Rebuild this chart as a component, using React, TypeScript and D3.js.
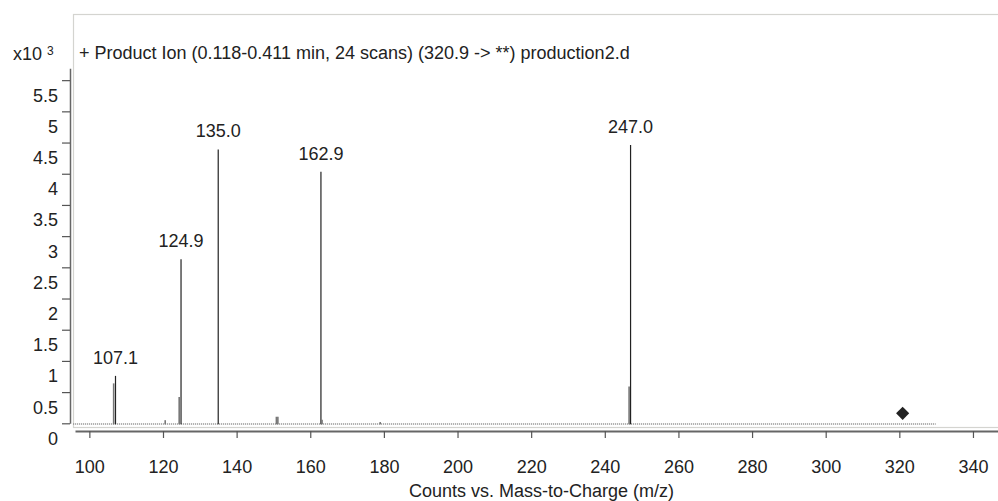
import React, { useEffect, useRef } from "react";
import * as d3 from "d3";

// centroid peaks, m/z and counts
const peakMz = [106.6, 107.1, 120.6, 124.4, 124.9, 135.0, 150.8, 151.2, 162.9, 163.2, 179.0, 246.6, 247.0];
const peakCounts = [640, 760, 50, 420, 2630, 4390, 105, 105, 4030, 55, 20, 590, 4460];
const labelMz = [107.1, 124.9, 135.0, 162.9, 247.0];
const scanRange = [95.6, 329.9];
const precursorMz = 320.9;
const precursorCounts = 160;
const xTicks = [100, 120, 140, 160, 180, 200, 220, 240, 260, 280, 300, 320, 340];
const yTicks = [0, 0.5, 1, 1.5, 2, 2.5, 3, 3.5, 4, 4.5, 5, 5.5];
const title = "+ Product Ion (0.118-0.411 min, 24 scans) (320.9 -> **) production2.d";
const xTitle = "Counts vs. Mass-to-Charge (m/z)";

const width = 998;
const height = 501;
const font = "'Liberation Sans', Arial, sans-serif";
const fs = 18;

export default function App() {
  const ref = useRef<SVGSVGElement>(null);

  useEffect(() => {
    const svg = d3.select(ref.current);
    svg.selectAll("*").remove();

    const x = d3.scaleLinear().domain([96.1, 346.8]).range([75, 998]);
    const y = d3.scaleLinear().domain([0, 5.69]).range([423.3, 68.3]);

    // plot frame
    svg.append("rect")
      .attr("x", 73.5).attr("y", 14.5)
      .attr("width", 940).attr("height", 413)
      .attr("fill", "none")
      .attr("stroke", "#d4d4d0")
      .attr("stroke-width", 1.2);

    // x axis
    const xAxis = svg.append("g")
      .attr("transform", "translate(0,431)")
      .call(d3.axisBottom(x).tickValues(xTicks).tickSize(7).tickSizeOuter(0).tickFormat(d3.format("d")));
    xAxis.select(".domain").attr("stroke", "#666").attr("stroke-width", 2);
    xAxis.selectAll(".tick line").attr("stroke", "#555").attr("stroke-width", 1.2);
    xAxis.selectAll(".tick text")
      .attr("y", 42).attr("dy", 0)
      .attr("font-family", font).attr("font-size", fs).attr("fill", "#222");

    // y axis
    const yAxis = svg.append("g")
      .attr("transform", "translate(70,0)")
      .call(d3.axisLeft(y).tickValues(yTicks).tickSize(8).tickSizeOuter(0).tickFormat(d => String(d)));
    yAxis.select(".domain").attr("stroke", "#666").attr("stroke-width", 1.5);
    yAxis.selectAll(".tick line").attr("stroke", "#555").attr("stroke-width", 1.2);
    yAxis.selectAll(".tick text")
      .attr("x", -12).attr("dy", 21)
      .attr("font-family", font).attr("font-size", fs).attr("fill", "#222");

    // baseline of the scan
    svg.append("line")
      .attr("x1", x(scanRange[0])).attr("x2", x(scanRange[1]))
      .attr("y1", y(0) + 0.7).attr("y2", y(0) + 0.7)
      .attr("stroke", "#888")
      .attr("stroke-width", 1.4)
      .attr("stroke-dasharray", "1,1");

    // peaks
    const peaks = peakMz.map((mz, i) => ({ mz, c: peakCounts[i] / 1000, main: labelMz.includes(mz) }));
    svg.selectAll("line.peak")
      .data(peaks)
      .enter()
      .append("line")
      .attr("class", "peak")
      .attr("x1", d => x(d.mz)).attr("x2", d => x(d.mz))
      .attr("y1", y(0) + 1).attr("y2", d => y(d.c))
      .attr("stroke", d => d.main ? "#222" : "#777")
      .attr("stroke-width", d => d.main ? 1.2 : 1.6);

    svg.selectAll("text.plabel")
      .data(peaks.filter(d => d.main))
      .enter()
      .append("text")
      .attr("class", "plabel")
      .attr("x", d => x(d.mz))
      .attr("y", d => y(d.c) - 12)
      .attr("text-anchor", "middle")
      .attr("font-family", font).attr("font-size", fs).attr("fill", "#222")
      .text(d => d.mz.toFixed(1));

    // precursor marker
    svg.append("path")
      .attr("d", d3.symbol().type(d3.symbolDiamond2).size(110)())
      .attr("transform", `translate(${x(precursorMz)},${y(precursorCounts / 1000)})`)
      .attr("fill", "#222");

    // titles
    svg.append("text")
      .attr("x", 79).attr("y", 59)
      .attr("font-family", font).attr("font-size", fs).attr("fill", "#222")
      .text(title);

    const mult = svg.append("text")
      .attr("x", 13).attr("y", 60)
      .attr("font-family", font).attr("font-size", fs).attr("fill", "#222");
    mult.append("tspan").text("x10 ");
    mult.append("tspan").attr("font-size", 12).attr("dy", -5).text("3");

    svg.append("text")
      .attr("x", 541.5).attr("y", 497)
      .attr("text-anchor", "middle")
      .attr("font-family", font).attr("font-size", fs).attr("fill", "#222")
      .text(xTitle);
  }, []);

  return (
    <svg ref={ref} width={width} height={height}
      style={{ position: "absolute", left: 0, top: 0, background: "#fff" }} />
  );
}
